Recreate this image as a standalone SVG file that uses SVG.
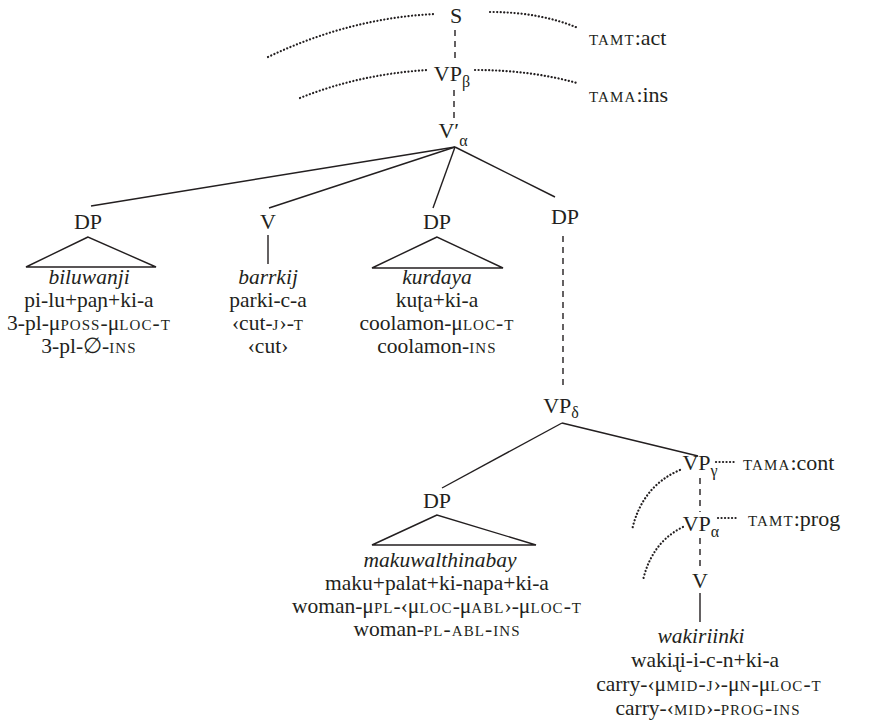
<svg xmlns="http://www.w3.org/2000/svg" width="872" height="724" viewBox="0 0 872 724" font-family="'Liberation Serif', 'Times New Roman', serif">
  <style>
    text { font-family: "Liberation Serif", "Times New Roman", serif; fill: #231f20; }
    .lbl { font-size: 22px; text-anchor: middle; }
    .sub { font-size: 16px; }
    .ln { font-size: 21.5px; text-anchor: middle; }
    .it { font-style: italic; }
    .sc { font-variant: small-caps; letter-spacing: 0.05em; }
    .feat { font-size: 22px; }
    .edge { stroke: #231f20; stroke-width: 1.4; fill: none; }
    .dash { stroke: #231f20; stroke-width: 1.4; fill: none; stroke-dasharray: 6 5; }
    .dots { stroke: #231f20; stroke-width: 2.2; fill: none; stroke-linecap: round; stroke-dasharray: 0.1 3.4; }
    .tri { stroke: #231f20; stroke-width: 1.4; fill: none; stroke-linejoin: miter; }
  </style>

  <!-- tree edges and feature-spreading arcs -->
  <g id="connectors">
    <line class="dash" x1="455" y1="30" x2="455" y2="62"/>
    <line class="dash" x1="454" y1="90" x2="454" y2="120"/>
    <line class="edge" x1="455" y1="147" x2="91" y2="206"/>
    <line class="edge" x1="455" y1="147" x2="269" y2="208"/>
    <line class="edge" x1="455" y1="147" x2="433" y2="208"/>
    <line class="edge" x1="455" y1="147" x2="555" y2="197"/>
    <line class="edge" x1="268" y1="235" x2="268" y2="264"/>
    <line class="dash" x1="563" y1="236" x2="563" y2="390"/>
    <line class="edge" x1="562" y1="423" x2="442" y2="488"/>
    <line class="edge" x1="562" y1="423" x2="698" y2="456"/>
    <line class="dash" x1="700" y1="478" x2="700" y2="512"/>
    <line class="dash" x1="700" y1="538" x2="700" y2="568"/>
    <line class="edge" x1="700" y1="593" x2="700" y2="622"/>

    <path class="dots" d="M268,57 Q350,18 435,14"/>
    <path class="dots" d="M490,12 Q540,12 578,28"/>
    <path class="dots" d="M300,98 Q360,74 428,70"/>
    <path class="dots" d="M475,70 Q530,70 577,83"/>
    <path class="dots" d="M680,470 Q642,486 632,530"/>
    <path class="dots" d="M683,527 Q652,542 643,580"/>
    <path class="dots" d="M716,462 L736,462"/>
    <path class="dots" d="M718,518 L738,518"/>
  </g>

  <g id="S"><text class="lbl" x="456" y="23">S</text></g>
  <g id="VPbeta"><text class="lbl" x="452" y="81">VP<tspan class="sub" dy="6">β</tspan></text></g>
  <g id="Vbar-alpha"><text class="lbl" x="453" y="138">V′<tspan class="sub" dy="8">α</tspan></text></g>

  <g id="feat-tamt-act"><text class="feat" x="589" y="45"><tspan class="sc">tamt</tspan>:act</text></g>
  <g id="feat-tama-ins"><text class="feat" x="589" y="102"><tspan class="sc">tama</tspan>:ins</text></g>

  <g id="DP-biluwanji">
    <text class="lbl" x="88" y="229">DP</text>
    <polygon class="tri" points="88,237 26,267 156,267"/>
    <text class="ln it" x="89" y="284">biluwanji</text>
    <text class="ln" x="89" y="307">pi-lu+paɲ+ki-a</text>
    <text class="ln" x="89" y="330">3-pl-μ<tspan class="sc">poss</tspan>-μ<tspan class="sc">loc-t</tspan></text>
    <text class="ln" x="89" y="353">3-pl-∅-<tspan class="sc">ins</tspan></text>
  </g>

  <g id="V-barrkij">
    <text class="lbl" x="268" y="229">V</text>
    <text class="ln it" x="268" y="284">barrkij</text>
    <text class="ln" x="268" y="307">parki-c-a</text>
    <text class="ln" x="268" y="330">‹cut-<tspan class="sc">j</tspan>›-<tspan class="sc">t</tspan></text>
    <text class="ln" x="268" y="353">‹cut›</text>
  </g>

  <g id="DP-kurdaya">
    <text class="lbl" x="437" y="229">DP</text>
    <polygon class="tri" points="437,237 372,268 503,268"/>
    <text class="ln it" x="437" y="284">kurdaya</text>
    <text class="ln" x="437" y="307">kuʈa+ki-a</text>
    <text class="ln" x="437" y="330">coolamon-μ<tspan class="sc">loc-t</tspan></text>
    <text class="ln" x="437" y="353">coolamon-<tspan class="sc">ins</tspan></text>
  </g>

  <g id="DP-clause"><text class="lbl" x="565" y="224">DP</text></g>
  <g id="VPdelta"><text class="lbl" x="561" y="413">VP<tspan class="sub" dy="5">δ</tspan></text></g>

  <g id="DP-makuwalthinabay">
    <text class="lbl" x="437" y="508">DP</text>
    <polygon class="tri" points="437,515 372,545 536,545"/>
    <text class="ln it" x="440" y="567">makuwalthinabay</text>
    <text class="ln" x="437" y="590">maku+palat+ki-napa+ki-a</text>
    <text class="ln" x="437" y="613">woman-μ<tspan class="sc">pl</tspan>-‹μ<tspan class="sc">loc</tspan>-μ<tspan class="sc">abl</tspan>›-μ<tspan class="sc">loc-t</tspan></text>
    <text class="ln" x="437" y="636">woman-<tspan class="sc">pl-abl-ins</tspan></text>
  </g>

  <g id="VPgamma"><text class="lbl" x="700" y="470">VP<tspan class="sub" dy="6">γ</tspan></text></g>
  <g id="feat-tama-cont"><text class="feat" x="743" y="470"><tspan class="sc">tama</tspan>:cont</text></g>
  <g id="VPalpha"><text class="lbl" x="701" y="531">VP<tspan class="sub" dy="6">α</tspan></text></g>
  <g id="feat-tamt-prog"><text class="feat" x="748" y="526"><tspan class="sc">tamt</tspan>:prog</text></g>

  <g id="V-wakiriinki">
    <text class="lbl" x="700" y="588">V</text>
    <text class="ln it" x="701" y="643">wakiriinki</text>
    <text class="ln" x="705" y="667">wakiɻi-i-c-n+ki-a</text>
    <text class="ln" x="709" y="691">carry-‹μ<tspan class="sc">mid-j</tspan>›-μ<tspan class="sc">n</tspan>-μ<tspan class="sc">loc-t</tspan></text>
    <text class="ln" x="708" y="715">carry-‹<tspan class="sc">mid</tspan>›-<tspan class="sc">prog-ins</tspan></text>
  </g>
</svg>
